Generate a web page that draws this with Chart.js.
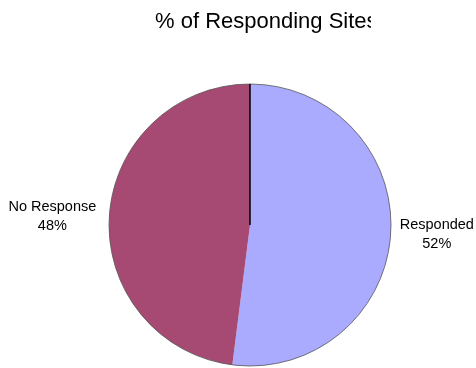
<!DOCTYPE html>
<html>
<head>
<meta charset="utf-8">
<script src="https://cdn.jsdelivr.net/npm/chart.js@4.4.0/dist/chart.umd.min.js"></script>
<style>
  html, body { margin: 0; padding: 0; background: #fff; }
  #wrap { width: 476px; height: 368px; position: relative; }
</style>
</head>
<body>
<div id="wrap"><canvas id="pieCanvas" width="476" height="368"></canvas></div>
<script>
const titleText = '% of Responding Sites';
const categories = ['Responded', 'No Response'];
const shares = [52, 48];
const sliceColors = ['#aaaaff', '#a64a74'];

// title, clipped on the right like the original sheet
const titlePlugin = {
    id: 'clippedTitle',
    afterDraw(chart) {
        const ctx = chart.ctx;
        ctx.save();
        ctx.beginPath();
        ctx.rect(0, 0, 371, 60);
        ctx.clip();
        ctx.font = '22px "Liberation Sans", Arial, sans-serif';
        ctx.fillStyle = '#000';
        ctx.textAlign = 'left';
        ctx.textBaseline = 'alphabetic';
        ctx.fillText(titleText, 155, 28);
        ctx.restore();
    }
};

// outline of the pie plus the black edge from centre to 12 o'clock
const outlinePlugin = {
    id: 'outline',
    afterDatasetsDraw(chart) {
        const arc = chart.getDatasetMeta(0).data[0];
        if (!arc) return;
        const ctx = chart.ctx;
        ctx.save();
        ctx.strokeStyle = '#555';
        ctx.lineWidth = 0.8;
        ctx.beginPath();
        ctx.arc(arc.x, arc.y, arc.outerRadius, 0, Math.PI * 2);
        ctx.stroke();
        ctx.strokeStyle = '#000';
        ctx.lineWidth = 1.5;
        ctx.beginPath();
        ctx.moveTo(arc.x, arc.y);
        ctx.lineTo(arc.x, arc.y - arc.outerRadius);
        ctx.stroke();
        ctx.restore();
    }
};

// category name and percentage beside each slice
const labelPlugin = {
    id: 'sliceLabels',
    afterDraw(chart) {
        const meta = chart.getDatasetMeta(0);
        const ctx = chart.ctx;
        ctx.save();
        ctx.font = '14.5px "Liberation Sans", Arial, sans-serif';
        ctx.fillStyle = '#000';
        ctx.textAlign = 'center';
        ctx.textBaseline = 'middle';
        meta.data.forEach((arc, i) => {
            const mid = (arc.startAngle + arc.endAngle) / 2;
            const r = arc.outerRadius;
            let x = arc.x + Math.cos(mid) * r;
            const y = arc.y + Math.sin(mid) * r;
            const w = ctx.measureText(categories[i]).width;
            x += Math.cos(mid) >= 0 ? w / 2 + 9 : -(w / 2 + 13);
            ctx.fillText(categories[i], x, y - 9);
            ctx.fillText(shares[i] + '%', x, y + 10);
        });
        ctx.restore();
    }
};

new Chart(document.getElementById('pieCanvas'), {
    type: 'pie',
    data: {
        labels: categories,
        datasets: [{
            data: shares,
            backgroundColor: sliceColors,
            borderWidth: 0
        }]
    },
    options: {
        responsive: false,
        animation: false,
        layout: { padding: { top: 84, bottom: 2, left: 109, right: 85 } },
        plugins: {
            legend: { display: false },
            tooltip: { enabled: false },
            title: { display: false }
        }
    },
    plugins: [titlePlugin, outlinePlugin, labelPlugin]
});
</script>
</body>
</html>
